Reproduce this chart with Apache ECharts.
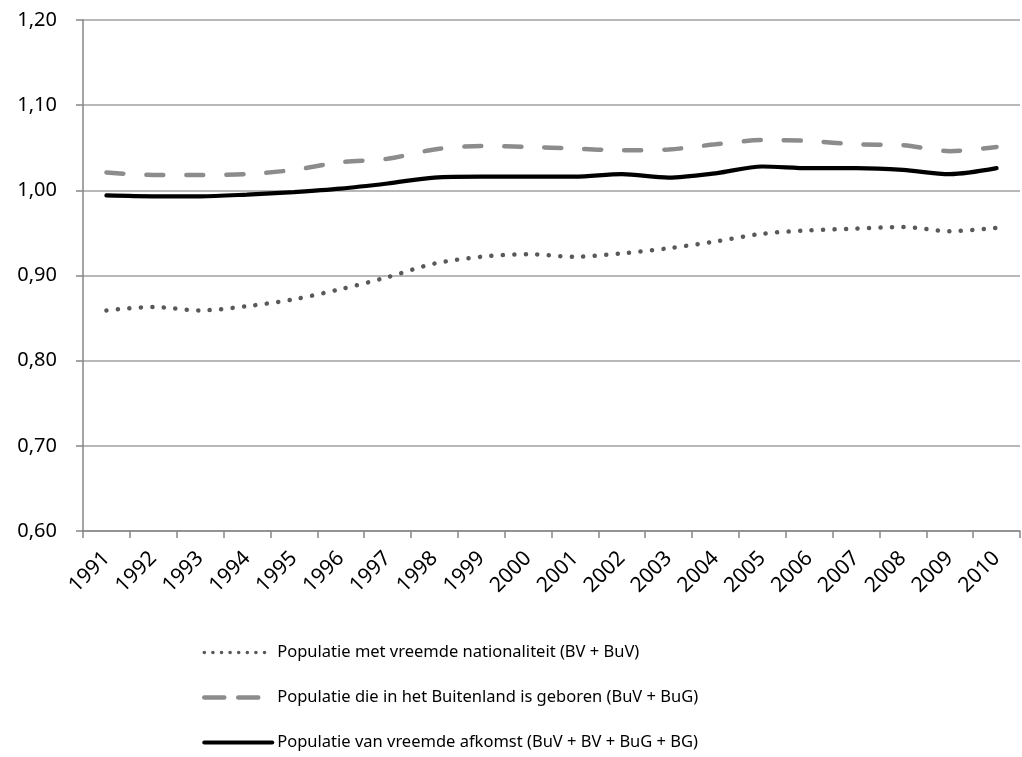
<!DOCTYPE html>
<html>
<head>
<meta charset="utf-8">
<script src="https://cdn.jsdelivr.net/npm/echarts@6/dist/echarts.min.js"></script>
<style>html,body{margin:0;padding:0;background:#fff}#c{width:1022px;height:757px}</style>
</head>
<body>
<div id="c"></div>
<script>
const years = ['1991','1992','1993','1994','1995','1996','1997','1998','1999','2000','2001','2002','2003','2004','2005','2006','2007','2008','2009','2010'];
const nationaliteit = [0.859,0.863,0.859,0.864,0.872,0.884,0.898,0.914,0.922,0.925,0.922,0.926,0.932,0.940,0.949,0.953,0.955,0.957,0.952,0.956];
const geboren = [1.021,1.018,1.018,1.019,1.024,1.033,1.037,1.048,1.052,1.051,1.049,1.047,1.048,1.054,1.059,1.058,1.054,1.053,1.046,1.051];
const afkomst = [0.994,0.993,0.993,0.995,0.998,1.002,1.008,1.015,1.016,1.016,1.016,1.019,1.015,1.020,1.028,1.026,1.026,1.024,1.019,1.026];
const names = ['Populatie met vreemde nationaliteit (BV + BuV)','Populatie die in het Buitenland is geboren (BuV + BuG)','Populatie van vreemde afkomst (BuV + BV + BuG + BG)'];

const font = 'Noto Sans';
const chart = echarts.init(document.getElementById('c'));
chart.setOption({
  animation:false,
  backgroundColor:'#fff',
  grid:{left:83,right:2,top:20,bottom:226},
  xAxis:{type:'category',data:years,boundaryGap:true,
    axisLine:{lineStyle:{color:'#868686',width:1.5}},
    axisTick:{show:true,length:7,lineStyle:{color:'#868686',width:1.5}},
    axisLabel:{rotate:45,fontFamily:font,fontSize:21,color:'#000',margin:24,interval:0}},
  yAxis:{type:'value',min:0.6,max:1.2,interval:0.1,
    axisLine:{show:true,lineStyle:{color:'#868686',width:1.5}},
    axisTick:{show:true,length:7,lineStyle:{color:'#868686',width:1.5}},
    splitLine:{lineStyle:{color:'#a0a0a0',width:1.5}},
    axisLabel:{fontFamily:font,fontSize:20,color:'#000',margin:26,
      formatter:v=>v.toFixed(2).replace('.',',')}},
  legend:{orient:'vertical',left:197,top:639,height:300,itemGap:28,itemWidth:68,itemHeight:16,
    itemStyle:{opacity:0},
    textStyle:{fontFamily:font,fontSize:16.5,color:'#000',lineHeight:16},
    data:[
      {name:names[0],lineStyle:{width:3.5,type:[0.1,8.5],cap:'round',color:'#595959'}},
      {name:names[1],lineStyle:{width:4.5,type:[20,14],cap:'round',color:'#8c8c8c'}},
      {name:names[2],lineStyle:{width:4,color:'#000'}}
    ]},
  series:[
    {name:names[0],type:'line',data:nationaliteit,smooth:0.3,symbol:'none',
     lineStyle:{color:'#595959',width:4.5,type:[0.1,11.4],cap:'round'},itemStyle:{color:'#595959'}},
    {name:names[1],type:'line',data:geboren,smooth:0.3,symbol:'none',
     lineStyle:{color:'#8c8c8c',width:4.5,type:[17,23],cap:'round'},itemStyle:{color:'#8c8c8c'}},
    {name:names[2],type:'line',data:afkomst,smooth:0.3,symbol:'none',
     lineStyle:{color:'#000',width:4.2,cap:'round'},itemStyle:{color:'#000'}}
  ]
});
</script>
</body>
</html>
